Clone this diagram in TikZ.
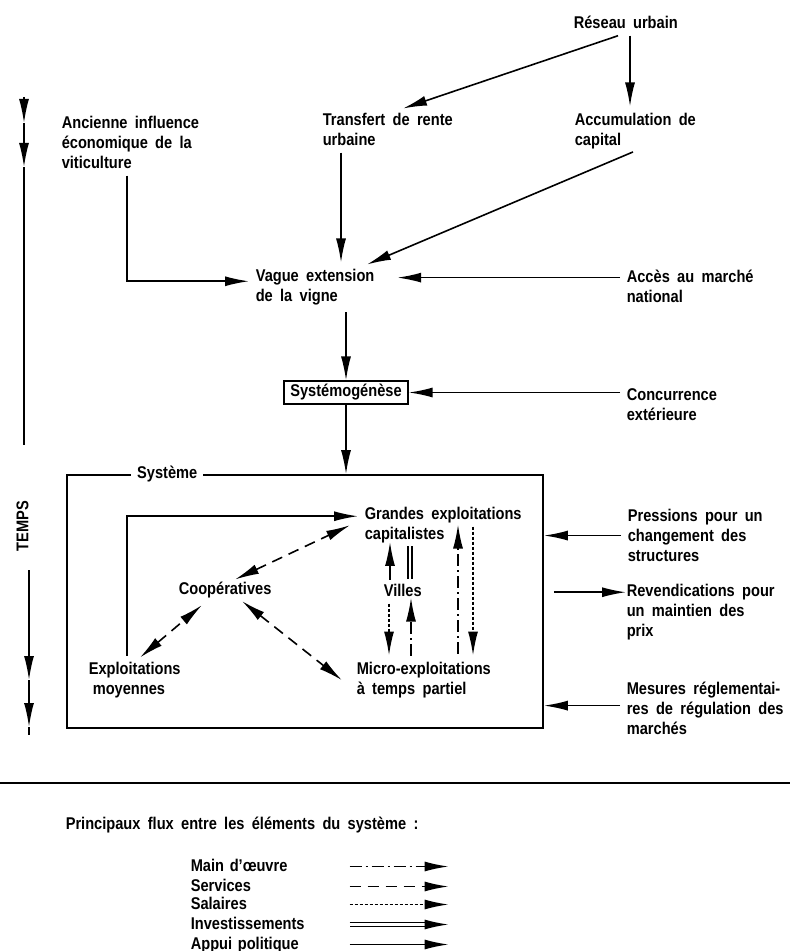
\documentclass[tikz,border=0pt]{standalone}
\usepackage{fontspec}
\setmainfont{Liberation Sans}[FakeStretch=0.86,WordSpace=1.8]
\usetikzlibrary{shapes,arrows.meta}
\tikzstyle{txt} = [anchor=north west, align=left, inner sep=3pt]
\tikzstyle{block} = [rectangle, draw, text centered, inner xsep=3pt, inner ysep=1.5pt, line width=1pt]
\tikzstyle{line} = [draw, -{Latex[length=12pt,width=5pt]}]
\tikzstyle{both} = [draw, {Latex[length=12pt,width=5pt]}-{Latex[length=12pt,width=5pt]}]
\tikzstyle{services} = [dash pattern=on 5.5pt off 3.5pt]
\tikzstyle{salaires} = [dash pattern=on 1.5pt off 1pt]
\tikzstyle{mainoeuvre} = [dash pattern=on 6pt off 2pt on 1pt off 2pt]
\tikzstyle{invest} = [double, double distance=1.2pt]
\tikzstyle{legtxt} = [anchor=west, text width=70pt, text height=6.5pt, text depth=2pt, inner sep=3pt]
\begin{document}
\begin{tikzpicture}[x=0.5pt,y=-0.5pt,line width=0.8pt,font=\fontsize{8.5}{10}\selectfont\bfseries]

\useasboundingbox (0,0) rectangle (790,951);

% upper part
\node[txt](reseau) at (567,9.5){Réseau urbain};
\node[txt](ancienne) at (55,109.5){Ancienne influence\\économique de la\\viticulture};
\node[txt](transfert) at (316,106.5){Transfert de rente\\urbaine};
\node[txt](accum) at (568,106.5){Accumulation de\\capital};
\node[txt](vague) at (249,262.5){Vague extension\\de la vigne};
\node[txt](acces) at (620,263.5){Accès au marché\\national};
\node[block](systemo) at (346,392.5){Systémogénèse};
\node[txt](concurrence) at (620,381.5){Concurrence\\extérieure};

\path [line] ([xshift=25.5pt]reseau.south west) -- ([xshift=43.5pt,yshift=-1pt]transfert.north west);
\path [line] ([xshift=31.5pt]reseau.south west) -- ([xshift=31.5pt]reseau.south west |- accum.north);
\path [line] ([xshift=36pt]ancienne.south west) |- ([yshift=3pt]vague.west);
\path [line] ([xshift=12.5pt]transfert.south west) -- ([xshift=12.5pt]transfert.south west |- vague.north);
\path [line] ([xshift=32.5pt,yshift=2pt]accum.south west) -- ([xshift=59pt,yshift=-1pt]vague.north west);
\path [line] ([yshift=4.5pt]acces.west) -- ([xshift=8pt,yshift=4.5pt]acces.west -| vague.east);
\path [line] (vague.south -| systemo.north) -- (systemo.north);
\path [line] (concurrence.west |- systemo.east) -- (systemo.east);

% the system
\node[draw,minimum width=238pt,minimum height=126.5pt,inner sep=0pt](systeme) at (305,601.5){};
\node[fill=white,inner xsep=3pt](syslabel) at ([xshift=50.5pt]systeme.north west){Système};
\path [line] (systemo.south) -- (systemo.south |- systeme.north);

\node[txt](grandes) at (358,500.5){Grandes exploitations\\capitalistes};
\node[txt](coop) at (172,575.5){Coopératives};
\node[txt](villes) at (377,577.5){Villes};
\node[txt](expl) at (82,655.5){Exploitations\\\hspace*{2pt}moyennes};
\node[txt](micro) at (350,655.5){Micro-exploitations\\à temps partiel};

\path [line] ([xshift=22.5pt]expl.north west) |- ([yshift=4.5pt]grandes.west);
\path [both,services] ([xshift=31.5pt,yshift=-2pt]coop.north west) -- ([xshift=-4pt]grandes.west);
\path [both,services] ([xshift=29pt,yshift=-1pt]expl.north west) -- ([xshift=15pt]coop.south west);
\path [both,services] ([xshift=35pt,yshift=2pt]coop.south west) -- ([xshift=-4pt]micro.west);
\path [line] ([xshift=6.5pt,yshift=-1pt]villes.north west) -- ([xshift=6.5pt,yshift=4pt]villes.north west |- grandes.south);
\draw [invest] ([xshift=16.5pt,yshift=-0.5pt]villes.north west) -- ([xshift=16.5pt,yshift=2pt]villes.north west |- grandes.south);
\path [line,salaires] ([xshift=6pt]villes.south west) -- ([xshift=6pt]villes.south west |- micro.north);
\path [line,mainoeuvre] ([xshift=17pt]villes.south west |- micro.north) -- ([xshift=17pt,yshift=3pt]villes.south west);
\path [line,mainoeuvre] ([xshift=54pt,yshift=1pt]micro.north west) -- ([xshift=50pt,yshift=-12pt]grandes.north west);
\path [line,salaires] ([xshift=57.5pt,yshift=-13pt]grandes.north west) -- ([xshift=61.5pt]micro.north west);

% outside influences
\node[txt](pressions) at (621,502.5){Pressions pour un\\changement des\\structures};
\node[txt](revend) at (620,577.5){Revendications pour\\un maintien des\\prix};
\node[txt](mesures) at (620,675.5){Mesures réglementai-\\res de régulation des\\marchés};
\path [line] (pressions.west) -- (pressions.west -| systeme.east);
\path [line] ([xshift=5pt,yshift=10pt]revend.west -| systeme.east) -- ([xshift=3pt,yshift=10pt]revend.west);
\path [line] ([yshift=1.5pt]mesures.west) -- ([yshift=1.5pt]mesures.west -| systeme.east);

% time axis
\node[rotate=90](temps) at (22.5,526){TEMPS};
\coordinate (ta) at (24,97);
\coordinate (tb) at (24,123);
\coordinate (tc) at (24,167);
\coordinate (td) at (24,445);
\coordinate (te) at (29,570);
\coordinate (tf) at (29,680);
\coordinate (tg) at (29,727);
\coordinate (th) at (29,735);
\path [line] (ta) -- (tb);
\path [line] (tb) -- (tc);
\draw (tc) -- (td);
\path [line] (te) -- (tf);
\path [line] (tf) -- (tg);
\draw (tg) -- (th);

% legend
\draw[line width=1pt] (0,783) -- (790,783);
\node[txt](principaux) at (59,810.5){Principaux flux entre les éléments du système :};
\node[legtxt](lmain) at (184,866.5){Main d’œuvre};
\node[legtxt](lserv) at (184,886.5){Services};
\node[legtxt](lsal) at (184,904.5){Salaires};
\node[legtxt](linv) at (184,924.5){Investissements};
\node[legtxt](lappui) at (184,944.5){Appui politique};
\path [line,mainoeuvre] ([xshift=6pt]lmain.east) -- ([xshift=55.5pt]lmain.east);
\path [line,services] ([xshift=6pt]lserv.east) -- ([xshift=55.5pt]lserv.east);
\path [line,salaires] ([xshift=6pt]lsal.east) -- ([xshift=55.5pt]lsal.east);
\path [line,invest] ([xshift=6pt]linv.east) -- ([xshift=55.5pt]linv.east);
\path [line] ([xshift=6pt]lappui.east) -- ([xshift=55.5pt]lappui.east);

\end{tikzpicture}
\end{document}
